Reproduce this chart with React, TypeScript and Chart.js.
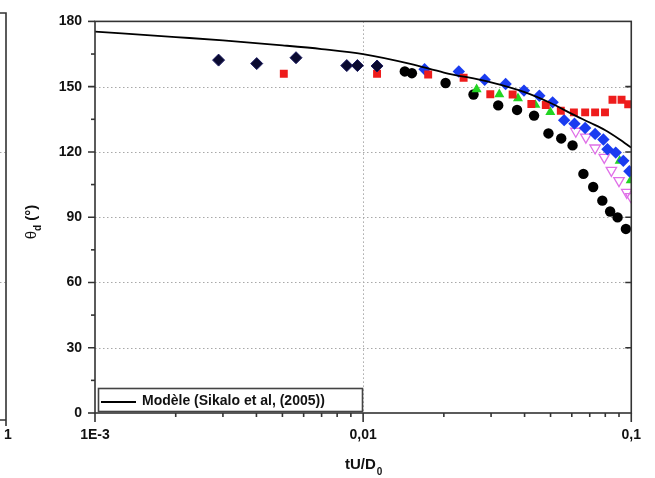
import React, { useEffect, useRef } from "react";
import { Chart, registerables } from "chart.js";

Chart.register(...registerables);

// ---- Data ----
const modelX = [0.001, 0.002, 0.003, 0.005, 0.007, 0.01, 0.015, 0.02, 0.03, 0.04, 0.05, 0.06, 0.07, 0.08, 0.09, 0.1];
const modelY = [175.3, 172.8, 171.3, 169.0, 167.3, 165.0, 160.5, 156.5, 152.0, 147.5, 142.5, 137.5, 133.5, 130.0, 126.0, 122.0];

const navyX = [0.00289, 0.00401, 0.00562, 0.00869, 0.00952, 0.01127];
const navyY = [162.2, 160.6, 163.3, 159.7, 159.7, 159.5];

const redX = [0.00506, 0.01127, 0.01748, 0.0237, 0.0298, 0.0361, 0.0424, 0.048, 0.0546, 0.0611, 0.0673, 0.0733, 0.0798, 0.0851, 0.092, 0.0974];
const redY = [155.9, 155.9, 155.6, 154.1, 146.5, 146.4, 142.0, 141.6, 138.9, 138.2, 138.2, 138.2, 138.2, 144.0, 144.0, 141.9];

const blueX = [0.01695, 0.02274, 0.0284, 0.034, 0.0398, 0.0454, 0.0509, 0.0562, 0.0614, 0.0673, 0.0733, 0.0787, 0.0815, 0.0875, 0.0934, 0.0984];
const blueY = [158.0, 157.0, 153.2, 151.2, 148.2, 145.8, 142.8, 134.6, 133.0, 131.0, 128.3, 125.7, 121.2, 119.7, 115.9, 111.1];

const greenX = [0.0265, 0.0322, 0.0378, 0.0439, 0.0499, 0.0905, 0.0995];
const greenY = [148.8, 146.5, 144.6, 141.6, 138.3, 115.9, 106.9];

const magentaX = [0.0621, 0.0677, 0.0733, 0.0793, 0.0843, 0.09, 0.0962, 0.0995];
const magentaY = [129.5, 126.8, 121.8, 117.5, 111.5, 106.8, 101.4, 99.5];

const blackX = [0.0143, 0.0152, 0.0203, 0.0258, 0.0319, 0.0375, 0.0434, 0.0491, 0.0548, 0.0604, 0.0663, 0.0721, 0.078, 0.0834, 0.0889, 0.0955];
const blackY = [157.0, 156.2, 151.7, 146.4, 141.4, 139.3, 136.7, 128.5, 126.2, 123.0, 109.9, 103.9, 97.6, 92.6, 89.9, 84.6];

const yMajorTicks = [0, 30, 60, 90, 120, 150, 180];
const xDecades = [0.001, 0.01, 0.1];
const xTickLabels = ["1E-3", "0,01", "0,1"];
const legendLabel = "Modèle (Sikalo et al, (2005))";

const pts = (xs: number[], ys: number[]) => xs.map((x, i) => ({ x, y: ys[i] }));

const FONT = "'Liberation Sans', Arial, sans-serif";

const decorPlugin = {
  id: "decor",
  beforeDatasetsDraw(chart: any) {
    const { ctx, chartArea: a, scales } = chart;
    const xs = scales.x, ys = scales.y;
    ctx.save();
    ctx.strokeStyle = "#a8a8a8";
    ctx.lineWidth = 1;
    ctx.setLineDash([1.5, 2.5]);
    yMajorTicks.forEach((v) => {
      if (v === 0 || v === 180) return;
      const py = Math.round(ys.getPixelForValue(v)) + 0.5;
      ctx.beginPath();
      ctx.moveTo(a.left, py);
      ctx.lineTo(a.right, py);
      ctx.stroke();
    });
    const px = Math.round(xs.getPixelForValue(0.01)) + 0.5;
    ctx.beginPath();
    ctx.moveTo(px, a.top);
    ctx.lineTo(px, a.bottom);
    ctx.stroke();
    // left panel remnant gridlines
    [120, 60].forEach((v) => {
      const py = Math.round(ys.getPixelForValue(v)) + 0.5;
      ctx.beginPath();
      ctx.moveTo(0, py);
      ctx.lineTo(6, py);
      ctx.stroke();
    });
    ctx.restore();
  },
  afterDatasetsDraw(chart: any) {
    const { ctx, chartArea: a, scales } = chart;
    const xs = scales.x, ys = scales.y;
    ctx.save();
    ctx.setLineDash([]);
    ctx.strokeStyle = "#333";
    ctx.lineWidth = 1.6;
    // frame
    ctx.strokeRect(a.left, a.top, a.right - a.left, a.bottom - a.top);
    // y ticks
    for (let v = 0; v <= 180; v += 15) {
      const py = ys.getPixelForValue(v);
      const major = v % 30 === 0;
      ctx.beginPath();
      ctx.moveTo(a.left - (major ? 7 : 4), py);
      ctx.lineTo(a.left, py);
      if (major && v > 0 && v < 180) {
        ctx.moveTo(a.right - 6, py);
        ctx.lineTo(a.right, py);
      }
      ctx.stroke();
    }
    // x ticks
    xDecades.forEach((d, i) => {
      const px = xs.getPixelForValue(d);
      ctx.beginPath();
      ctx.moveTo(px, a.bottom);
      ctx.lineTo(px, a.bottom + 9);
      ctx.stroke();
      if (i < xDecades.length - 1) {
        for (let m = 2; m <= 9; m++) {
          const mx = xs.getPixelForValue(d * m);
          ctx.beginPath();
          ctx.moveTo(mx, a.bottom);
          ctx.lineTo(mx, a.bottom + 4);
          ctx.stroke();
        }
      }
    });
    // left panel remnant
    ctx.beginPath();
    ctx.moveTo(0, 13);
    ctx.lineTo(6, 13);
    ctx.lineTo(6, 420);
    ctx.lineTo(0, 420);
    ctx.moveTo(6, 420);
    ctx.lineTo(6, 426);
    ctx.stroke();
    ctx.fillStyle = "#111";
    ctx.font = `bold 14px ${FONT}`;
    ctx.textAlign = "center";
    ctx.textBaseline = "top";
    ctx.fillText("1", 8, 428);

    // legend box
    ctx.strokeStyle = "#444";
    ctx.lineWidth = 1.6;
    ctx.strokeRect(98.5, 388.5, 264, 23);
    ctx.strokeStyle = "#000";
    ctx.lineWidth = 1.8;
    ctx.beginPath();
    ctx.moveTo(101, 402);
    ctx.lineTo(136, 402);
    ctx.stroke();
    ctx.fillStyle = "#111";
    ctx.font = `bold 14px ${FONT}`;
    ctx.textAlign = "left";
    ctx.textBaseline = "middle";
    ctx.fillText(legendLabel, 142, 401);

    // x title tU/D0
    ctx.font = `bold 15px ${FONT}`;
    const main = "tU/D";
    const wMain = ctx.measureText(main).width;
    ctx.font = `bold 10px ${FONT}`;
    const wSub = ctx.measureText("0").width;
    const xStart = (a.left + a.right) / 2 - (wMain + wSub) / 2;
    ctx.font = `bold 15px ${FONT}`;
    ctx.fillText(main, xStart, 465);
    ctx.font = `bold 10px ${FONT}`;
    ctx.fillText("0", xStart + wMain + 1, 472);

    // y title θd (°)
    ctx.save();
    ctx.translate(32, 222);
    ctx.rotate(-Math.PI / 2);
    ctx.font = `15px ${FONT}`;
    const wT = ctx.measureText("θ").width;
    ctx.font = `bold 10px ${FONT}`;
    const wD = ctx.measureText("d").width;
    ctx.font = `bold 15px ${FONT}`;
    const rest = " (°)";
    const wR = ctx.measureText(rest).width;
    let lx = -(wT + wD + wR) / 2;
    ctx.textBaseline = "middle";
    ctx.font = `15px ${FONT}`;
    ctx.fillText("θ", lx, 0);
    lx += wT;
    ctx.font = `bold 10px ${FONT}`;
    ctx.fillText("d", lx, 6);
    lx += wD;
    ctx.font = `bold 15px ${FONT}`;
    ctx.fillText(rest, lx, 0);
    ctx.restore();

    ctx.restore();
  },
};

export default function App() {
  const ref = useRef<HTMLCanvasElement | null>(null);
  useEffect(() => {
    document.body.style.margin = "0";
    if (!ref.current) return;
    const chart = new Chart(ref.current, {
      type: "scatter",
      data: {
        datasets: [
          {
            label: legendLabel,
            data: pts(modelX, modelY),
            showLine: true,
            borderColor: "#000",
            borderWidth: 1.8,
            pointRadius: 0,
            cubicInterpolationMode: "monotone",
          } as any,
          {
            label: "navy",
            data: pts(navyX, navyY),
            pointStyle: "rectRot",
            pointRadius: 6,
            backgroundColor: "#0a0a30",
            borderColor: "#1a1a60",
            borderWidth: 1,
          },
          {
            label: "red",
            data: pts(redX, redY),
            pointStyle: "rect",
            pointRadius: 5.6,
            backgroundColor: "#ee1c1c",
            borderColor: "#ee1c1c",
            borderWidth: 0,
          },
          {
            label: "blue",
            data: pts(blueX, blueY),
            pointStyle: "rectRot",
            pointRadius: 6.2,
            backgroundColor: "#1a3cf0",
            borderColor: "#1a3cf0",
            borderWidth: 0,
          },
          {
            label: "green",
            data: pts(greenX, greenY),
            pointStyle: "triangle",
            pointRadius: 5.8,
            backgroundColor: "#22d422",
            borderColor: "#22d422",
            borderWidth: 0,
          },
          {
            label: "magenta",
            data: pts(magentaX, magentaY),
            pointStyle: "triangle",
            rotation: 180,
            pointRadius: 6,
            backgroundColor: "rgba(0,0,0,0)",
            borderColor: "#e070e8",
            borderWidth: 1.3,
          } as any,
          {
            label: "black",
            data: pts(blackX, blackY),
            pointStyle: "circle",
            pointRadius: 5.2,
            backgroundColor: "#000",
            borderColor: "#000",
            borderWidth: 0,
          },
        ],
      },
      options: {
        animation: false,
        responsive: false,
        events: [],
        layout: { padding: { left: 0, top: 15, right: 23, bottom: 0 } },
        plugins: { legend: { display: false }, tooltip: { enabled: false } },
        scales: {
          x: {
            type: "logarithmic",
            min: 0.001,
            max: 0.1,
            grid: { display: false, drawTicks: false },
            border: { display: false },
            afterFit: (s: any) => { s.height = 65; },
            afterBuildTicks: (s: any) => {
              s.ticks = xDecades.map((v) => ({ value: v }));
            },
            ticks: {
              autoSkip: false,
              maxRotation: 0,
              padding: 14,
              color: "#111",
              font: { family: FONT, size: 14, weight: "bold" },
              callback: (v: any) => {
                const i = xDecades.findIndex((d) => Math.abs(d - Number(v)) / d < 1e-6);
                return i >= 0 ? xTickLabels[i] : "";
              },
            },
          },
          y: {
            min: 0,
            max: 180,
            grid: { display: false, drawTicks: false },
            border: { display: false },
            afterFit: (s: any) => { s.width = 95; },
            ticks: {
              stepSize: 30,
              padding: 13,
              color: "#111",
              font: { family: FONT, size: 14, weight: "bold" },
            },
          },
        },
      } as any,
      plugins: [decorPlugin],
    });
    return () => chart.destroy();
  }, []);
  return (
    <div style={{ position: "absolute", left: 0, top: 0, width: 655, height: 478 }}>
      <canvas ref={ref} width={655} height={478} />
    </div>
  );
}
